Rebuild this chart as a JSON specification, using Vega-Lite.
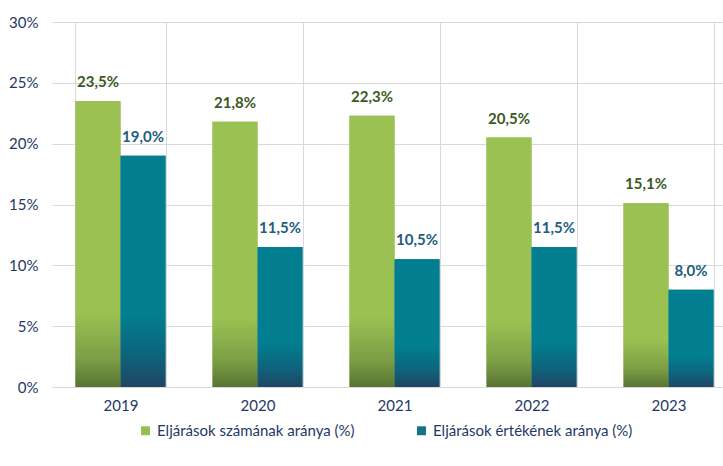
{
  "$schema": "https://vega.github.io/schema/vega-lite/v6.json",
  "width": 671,
  "height": 365,
  "autosize": {"type": "none"},
  "padding": {"left": 52, "top": 22, "right": 0, "bottom": 79},
  "background": "white",
  "config": {
    "locale": {"number": {"decimal": ",", "thousands": " ", "grouping": [3], "currency": ["", ""]}},
    "font": "Lato",
    "view": {"stroke": null}
  },
  "data": {
    "values": [
      {"year": "2019", "series": "Eljárások számának aránya (%)", "value": 0.235},
      {"year": "2019", "series": "Eljárások értékének aránya (%)", "value": 0.190},
      {"year": "2020", "series": "Eljárások számának aránya (%)", "value": 0.218},
      {"year": "2020", "series": "Eljárások értékének aránya (%)", "value": 0.115},
      {"year": "2021", "series": "Eljárások számának aránya (%)", "value": 0.223},
      {"year": "2021", "series": "Eljárások értékének aránya (%)", "value": 0.105},
      {"year": "2022", "series": "Eljárások számának aránya (%)", "value": 0.205},
      {"year": "2022", "series": "Eljárások értékének aránya (%)", "value": 0.115},
      {"year": "2023", "series": "Eljárások számának aránya (%)", "value": 0.151},
      {"year": "2023", "series": "Eljárások értékének aránya (%)", "value": 0.080}
    ]
  },
  "encoding": {
    "x": {
      "field": "year", "type": "nominal",
      "scale": {"range": [0, 685], "paddingInner": 0.343, "paddingOuter": 0.1715},
      "axis": {
        "title": null, "labelAngle": 0, "ticks": false, "grid": true, "tickBand": "extent",
        "gridColor": "#D9D9D9", "gridWidth": 1, "domainColor": "#D9D9D9", "domainWidth": 1,
        "labelColor": "#1F3864", "labelFontSize": 15, "labelPadding": 11
      }
    },
    "xOffset": {"field": "series", "type": "nominal", "sort": ["Eljárások számának aránya (%)", "Eljárások értékének aránya (%)"], "scale": {"paddingInner": 0, "paddingOuter": 0}},
    "y": {
      "field": "value", "type": "quantitative",
      "scale": {"domain": [0, 0.3], "nice": false},
      "axis": {
        "title": null, "format": ".0%", "values": [0, 0.05, 0.1, 0.15, 0.2, 0.25, 0.3],
        "labelOverlap": false, "domain": false, "ticks": false, "grid": true, "gridColor": "#D9D9D9", "gridWidth": 1,
        "labelColor": "#1F3864", "labelFontSize": 15, "labelPadding": 14
      }
    }
  },
  "layer": [
    {
      "mark": {"type": "bar"},
      "encoding": {
        "color": {
          "field": "series", "type": "nominal",
          "scale": {"domain": ["Eljárások számának aránya (%)", "Eljárások értékének aránya (%)"], "range": ["#93C050", "#137488"]},
          "legend": {
            "title": null, "orient": "none", "direction": "horizontal", "legendX": 86, "legendY": 401,
            "symbolType": "square", "symbolSize": 80, "symbolStrokeWidth": 0, "labelFontSize": 15, "labelLimit": 0,
            "labelColor": "#1F3864", "columnPadding": 59, "labelOffset": 4
          }
        }
      }
    },
    {
      "transform": [{"filter": "datum.series === 'Eljárások számának aránya (%)'"}],
      "mark": {
        "type": "bar",
        "fill": {"gradient": "linear", "x1": 0, "y1": 0, "x2": 0, "y2": 1,
          "stops": [{"offset": 0, "color": "#9BC153"}, {"offset": 0.74, "color": "#9BC153"}, {"offset": 0.9, "color": "#7C9E45"}, {"offset": 1, "color": "#587433"}]}
      }
    },
    {
      "transform": [{"filter": "datum.series === 'Eljárások értékének aránya (%)'"}],
      "mark": {
        "type": "bar",
        "fill": {"gradient": "linear", "x1": 0, "y1": 0, "x2": 0, "y2": 1,
          "stops": [{"offset": 0, "color": "#017F91"}, {"offset": 0.68, "color": "#017F91"}, {"offset": 0.88, "color": "#0F6179"}, {"offset": 1, "color": "#204563"}]}
      }
    },
    {
      "transform": [{"filter": "datum.series === 'Eljárások számának aránya (%)'"}],
      "mark": {"type": "text", "baseline": "bottom", "dy": -11, "fontSize": 15, "fontWeight": "bold", "color": "#3A5A22"},
      "encoding": {"text": {"field": "value", "type": "quantitative", "format": ".1%"}}
    },
    {
      "transform": [{"filter": "datum.series === 'Eljárások értékének aránya (%)'"}],
      "mark": {"type": "text", "baseline": "bottom", "dy": -11, "fontSize": 15, "fontWeight": "bold", "color": "#215E7C"},
      "encoding": {"text": {"field": "value", "type": "quantitative", "format": ".1%"}}
    }
  ]
}
